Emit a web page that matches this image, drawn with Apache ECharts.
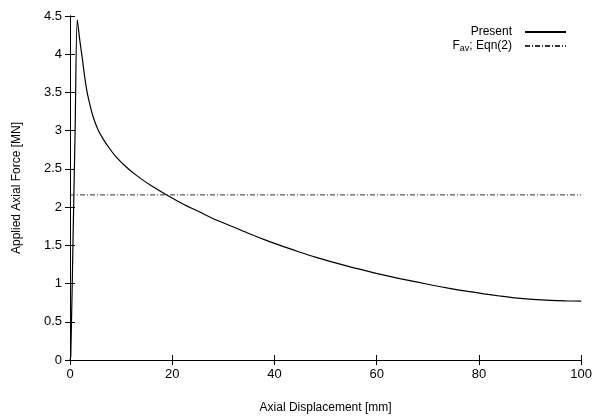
<!DOCTYPE html>
<html>
<head>
<meta charset="utf-8">
<script src="https://cdn.jsdelivr.net/npm/echarts@6/dist/echarts.min.js"></script>
<style>
html,body{margin:0;padding:0;background:#fff;}
#c{width:595px;height:419px;}
</style>
</head>
<body>
<div id="c"></div>
<script>
var presentX = [0, 0.15, 0.6, 1.0, 1.43, 1.9, 2.4, 2.8, 3.3, 4.0, 4.6, 5.5, 6.5, 7.7, 9.1, 11, 13, 16, 19, 22, 25.4, 28.5, 32, 35, 38.4, 41.5, 45, 48, 51.4, 55, 58, 61, 64.5, 68, 71, 74, 77.5, 81, 84, 87, 90.5, 94, 97, 100];
var presentY = [0, 0.05, 1.6, 3.0, 4.45, 4.19, 3.95, 3.74, 3.52, 3.31, 3.165, 3.01, 2.89, 2.77, 2.65, 2.525, 2.415, 2.275, 2.155, 2.045, 1.935, 1.835, 1.74, 1.655, 1.565, 1.49, 1.41, 1.345, 1.28, 1.215, 1.165, 1.117, 1.065, 1.018, 0.978, 0.94, 0.90, 0.865, 0.837, 0.812, 0.792, 0.779, 0.773, 0.77];
var favX = [0, 100];
var favY = [2.16, 2.16];
var xTicks = {min: 0, max: 100, interval: 20};
var yTicks = {min: 0, max: 4.5, interval: 0.5};

function pairs(xs, ys){ return xs.map(function(x,i){return [x, ys[i]];}); }

var font = 'Liberation Sans, Arial, Helvetica, sans-serif';
var chart = echarts.init(document.getElementById('c'), null, {renderer:'canvas'});
var axisLine = {show:true, lineStyle:{color:'#000', width:1}};
var tick = {show:true, inside:true, length:5, lineStyle:{color:'#000'}};
chart.setOption({
  animation:false,
  backgroundColor:'#fff',
  grid:{left:70, right:13, top:16, bottom:55, containLabel:false},
  legend:{
    orient:'vertical', right:23, top:21, align:'right',
    itemWidth:41, itemHeight:10, itemGap:2,
    itemStyle:{opacity:0},
    textStyle:{fontFamily:font, fontSize:12, color:'#000', padding:[0,8,0,0],
      rich:{
        a:{fontFamily:font, fontSize:12, color:'#000'},
        s:{fontFamily:font, fontSize:9, color:'#000', padding:[6,0,0,0]}
      }},
    formatter:function(n){ return n === 'Fav' ? '{a|F}{s|av}{a|; Eqn(2)}' : n; },
    data:['Present','Fav']
  },
  xAxis:[
    {type:'value', min:xTicks.min, max:xTicks.max, interval:xTicks.interval, position:'bottom',
     name:'Axial Displacement [mm]', nameLocation:'middle', nameGap:42,
     nameTextStyle:{fontFamily:font, fontSize:12, color:'#000'},
     axisLine:axisLine, axisTick:tick, splitLine:{show:false},
     axisLabel:{fontFamily:font, fontSize:13, color:'#000', margin:8}},
    {type:'value', min:xTicks.min, max:xTicks.max, interval:xTicks.interval, position:'top',
     axisLine:axisLine, axisTick:tick, splitLine:{show:false}, axisLabel:{show:false}}
  ],
  yAxis:[
    {type:'value', min:yTicks.min, max:yTicks.max, interval:yTicks.interval, position:'left',
     name:'Applied Axial Force [MN]', nameLocation:'middle', nameGap:47,
     nameTextStyle:{fontFamily:font, fontSize:12, color:'#000'},
     axisLine:axisLine, axisTick:tick, splitLine:{show:false},
     axisLabel:{fontFamily:font, fontSize:13, color:'#000', margin:8}},
    {type:'value', min:yTicks.min, max:yTicks.max, interval:yTicks.interval, position:'right',
     axisLine:axisLine, axisTick:tick, splitLine:{show:false}, axisLabel:{show:false}}
  ],
  series:[
    {name:'Present', type:'line', data:pairs(presentX, presentY), showSymbol:false, symbol:'none',
     smooth:0.3,
     lineStyle:{color:'#000', width:1.2}, itemStyle:{color:'#000'}},
    {name:'Fav', type:'line', data:pairs(favX, favY), showSymbol:false, symbol:'none',
     lineStyle:{color:'#333', width:1, type:[5,2,1,2]}, itemStyle:{color:'#333'}}
  ]
});
</script>
</body>
</html>
